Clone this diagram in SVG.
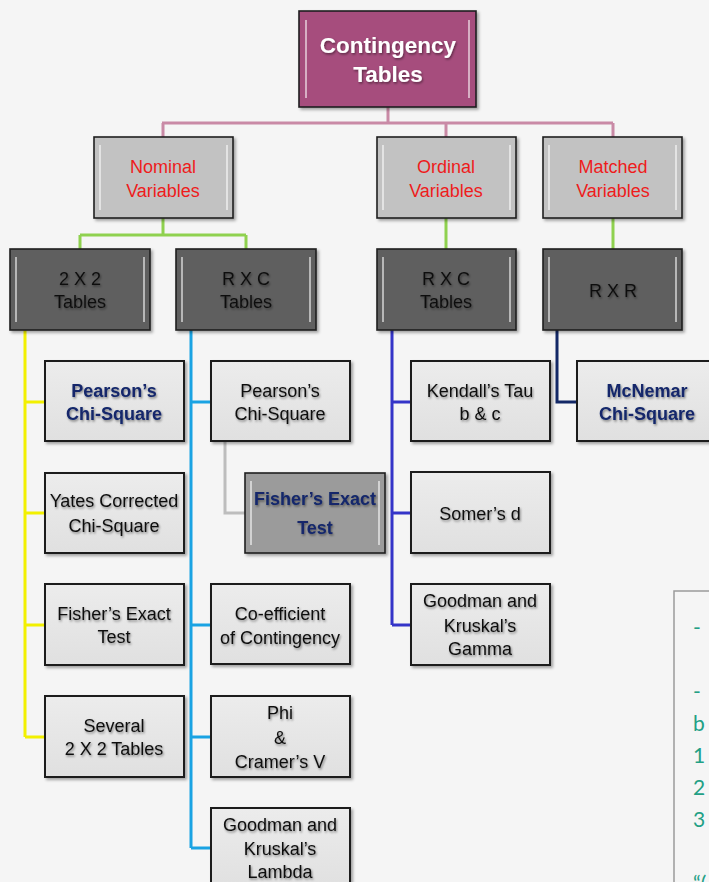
<svg xmlns="http://www.w3.org/2000/svg" width="709" height="882" viewBox="0 0 709 882">
<defs>
<filter id="sh" x="-10%" y="-10%" width="130%" height="130%"><feDropShadow dx="2" dy="2" stdDeviation="1.5" flood-color="#000" flood-opacity="0.35"/></filter>
<filter id="ts" x="-10%" y="-20%" width="120%" height="150%"><feDropShadow dx="1" dy="1.5" stdDeviation="1.2" flood-color="#000" flood-opacity="0.45"/></filter>
<linearGradient id="gl" x1="0" y1="0" x2="0" y2="1"><stop offset="0" stop-color="#ececec"/><stop offset="1" stop-color="#e0e0e0"/></linearGradient>
</defs>
<style>
.b{stroke:#1e1e1e;stroke-width:1.6}
.lf{fill:url(#gl);stroke:#1e1e1e;stroke-width:2}
.hl{stroke:#ffffff;stroke-opacity:0.55;stroke-width:2;fill:none}
.t{font-family:"Liberation Sans",Arial,sans-serif;font-size:18px;text-anchor:middle}
.k{fill:#111}
.r{fill:#ee1c1c}
.nv{fill:#13276b;font-weight:bold}
.w{fill:#fff;font-weight:bold;font-size:22.5px}
.c{fill:none;stroke-width:3}
.mono{font-family:Lato,"Noto Sans",sans-serif;font-size:21px;fill:#23a085}
</style>
<rect width="709" height="882" fill="#f5f5f5"/>

<g id="connectors">
<path class="c" stroke="#c98aa6" d="M388 107V123M162 123H613M163 123V137M446 123V137M613 123V137"/>
<path class="c" stroke="#8fd14f" d="M163 218V235M80 235H246M80 235V249M246 235V249M446 218V249M613 218V249"/>
<path class="c" stroke="#f2f000" d="M25 330V737M25 402H45M25 513H45M25 625H45M25 737H45"/>
<path class="c" stroke="#1aa3e3" d="M191 330V848M191 402H211M191 625H211M191 737H211M191 848H211"/>
<path class="c" stroke="#bdbdbd" d="M225 441V513H245"/>
<path class="c" stroke="#3434c8" d="M392 330V625M392 402H411M392 513H411M392 625H411"/>
<path class="c" stroke="#132866" d="M557 330V402H577"/>
</g>

<g id="root" filter="url(#sh)">
<rect x="299" y="11" width="177" height="96" fill="#a64e7d" class="b"/>
<path class="hl" d="M306 20V98M469 20V98"/>
</g>
<text class="t w" filter="url(#ts)"><tspan x="388" y="53">Contingency</tspan><tspan x="388" y="82">Tables</tspan></text>

<g id="nominal">
<rect x="94" y="137" width="139" height="81" fill="#c2c2c2" class="b" filter="url(#sh)"/>
<path class="hl" d="M100 145V210M227 145V210"/>
<text class="t r"><tspan x="163" y="173">Nominal</tspan><tspan x="163" y="197">Variables</tspan></text>
</g>
<g id="ordinal">
<rect x="377" y="137" width="139" height="81" fill="#c2c2c2" class="b" filter="url(#sh)"/>
<path class="hl" d="M383 145V210M510 145V210"/>
<text class="t r"><tspan x="446" y="173">Ordinal</tspan><tspan x="446" y="197">Variables</tspan></text>
</g>
<g id="matched">
<rect x="543" y="137" width="139" height="81" fill="#c2c2c2" class="b" filter="url(#sh)"/>
<path class="hl" d="M549 145V210M676 145V210"/>
<text class="t r"><tspan x="613" y="173">Matched</tspan><tspan x="613" y="197">Variables</tspan></text>
</g>

<g id="t2x2">
<rect x="10" y="249" width="140" height="81" fill="#5f5f5f" class="b" filter="url(#sh)"/>
<path class="hl" d="M16 257V322M144 257V322"/>
<text class="t k" filter="url(#ts)"><tspan x="80" y="285">2 X 2</tspan><tspan x="80" y="308">Tables</tspan></text>
</g>
<g id="rxc-nominal">
<rect x="176" y="249" width="140" height="81" fill="#5f5f5f" class="b" filter="url(#sh)"/>
<path class="hl" d="M182 257V322M310 257V322"/>
<text class="t k" filter="url(#ts)"><tspan x="246" y="285">R X C</tspan><tspan x="246" y="308">Tables</tspan></text>
</g>
<g id="rxc-ordinal">
<rect x="377" y="249" width="139" height="81" fill="#5f5f5f" class="b" filter="url(#sh)"/>
<path class="hl" d="M383 257V322M510 257V322"/>
<text class="t k" filter="url(#ts)"><tspan x="446" y="285">R X C</tspan><tspan x="446" y="308">Tables</tspan></text>
</g>
<g id="rxr">
<rect x="543" y="249" width="139" height="81" fill="#5f5f5f" class="b" filter="url(#sh)"/>
<path class="hl" d="M549 257V322M676 257V322"/>
<text class="t k" filter="url(#ts)" x="613" y="297">R X R</text>
</g>

<g id="pearson-2x2">
<rect x="45" y="361" width="139" height="80" class="lf" filter="url(#sh)"/>
<text class="t nv" filter="url(#ts)"><tspan x="114" y="397">Pearson’s</tspan><tspan x="114" y="420">Chi-Square</tspan></text>
</g>
<g id="yates">
<rect x="45" y="473" width="139" height="80" class="lf" filter="url(#sh)"/>
<text class="t k" filter="url(#ts)"><tspan x="114" y="507">Yates Corrected</tspan><tspan x="114" y="532">Chi-Square</tspan></text>
</g>
<g id="fisher-2x2">
<rect x="45" y="584" width="139" height="81" class="lf" filter="url(#sh)"/>
<text class="t k" filter="url(#ts)"><tspan x="114" y="620">Fisher’s Exact</tspan><tspan x="114" y="643">Test</tspan></text>
</g>
<g id="several">
<rect x="45" y="696" width="139" height="81" class="lf" filter="url(#sh)"/>
<text class="t k" filter="url(#ts)"><tspan x="114" y="732">Several</tspan><tspan x="114" y="755">2 X 2 Tables</tspan></text>
</g>

<g id="pearson-rxc">
<rect x="211" y="361" width="139" height="80" class="lf" filter="url(#sh)"/>
<text class="t k" filter="url(#ts)"><tspan x="280" y="397">Pearson’s</tspan><tspan x="280" y="420">Chi-Square</tspan></text>
</g>
<g id="fisher-rxc">
<rect x="245" y="473" width="140" height="80" fill="#9b9b9b" class="b" filter="url(#sh)"/>
<path class="hl" d="M251 481V545M379 481V545"/>
<text class="t nv" filter="url(#ts)"><tspan x="315" y="505">Fisher’s Exact</tspan><tspan x="315" y="534">Test</tspan></text>
</g>
<g id="coefficient">
<rect x="211" y="584" width="139" height="80" class="lf" filter="url(#sh)"/>
<text class="t k" filter="url(#ts)"><tspan x="280" y="620">Co-efficient</tspan><tspan x="280" y="644">of Contingency</tspan></text>
</g>
<g id="phi">
<rect x="211" y="696" width="139" height="81" class="lf" filter="url(#sh)"/>
<text class="t k" filter="url(#ts)"><tspan x="280" y="719">Phi</tspan><tspan x="280" y="744">&amp;</tspan><tspan x="280" y="768">Cramer’s V</tspan></text>
</g>
<g id="lambda">
<rect x="211" y="808" width="139" height="81" class="lf" filter="url(#sh)"/>
<text class="t k" filter="url(#ts)"><tspan x="280" y="831">Goodman and</tspan><tspan x="280" y="855">Kruskal’s</tspan><tspan x="280" y="878">Lambda</tspan></text>
</g>

<g id="kendall">
<rect x="411" y="361" width="139" height="80" class="lf" filter="url(#sh)"/>
<text class="t k" filter="url(#ts)"><tspan x="480" y="397">Kendall’s Tau</tspan><tspan x="480" y="420">b &amp; c</tspan></text>
</g>
<g id="somer">
<rect x="411" y="472" width="139" height="81" class="lf" filter="url(#sh)"/>
<text class="t k" filter="url(#ts)" x="480" y="520">Somer’s d</text>
</g>
<g id="gamma">
<rect x="411" y="584" width="139" height="81" class="lf" filter="url(#sh)"/>
<text class="t k" filter="url(#ts)"><tspan x="480" y="607">Goodman and</tspan><tspan x="480" y="632">Kruskal’s</tspan><tspan x="480" y="655">Gamma</tspan></text>
</g>

<g id="mcnemar">
<rect x="577" y="361" width="140" height="80" class="lf" filter="url(#sh)"/>
<text class="t nv" filter="url(#ts)"><tspan x="647" y="397">McNemar</tspan><tspan x="647" y="420">Chi-Square</tspan></text>
</g>

<g id="panel">
<rect x="674" y="591" width="60" height="320" fill="#f5f5f5" stroke="#9a9a9a" stroke-width="1.5"/>
<text class="mono"><tspan x="693" y="635">-</tspan><tspan x="693" y="699">-</tspan><tspan x="693" y="731">b</tspan><tspan x="693" y="763">1</tspan><tspan x="693" y="795">2</tspan><tspan x="693" y="827">3</tspan><tspan x="693" y="891">“(</tspan></text>
</g>
</svg>
